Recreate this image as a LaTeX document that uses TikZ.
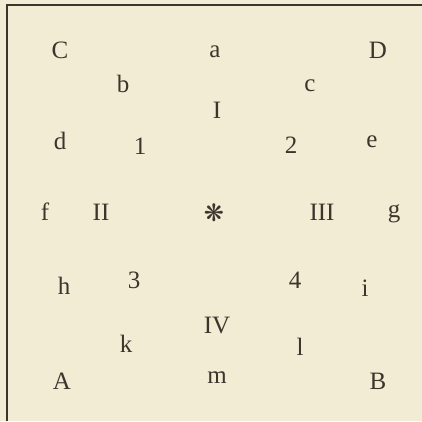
\documentclass[tikz,border=0pt]{standalone}
\usepackage{fontspec}
\setmainfont{Liberation Serif}
\newfontfamily\symfont{DejaVu Sans}
\definecolor{paper}{HTML}{F2ECD4}
\definecolor{ink}{HTML}{3A362C}
\tikzset{
  lbl/.style={text=ink, font=\fontsize{25}{25}\selectfont, inner sep=0pt, anchor=center},
  frameline/.style={draw=ink, line width=1.6pt}
}
\begin{document}
\begin{tikzpicture}[x=1pt, y=-1pt]
\fill[paper] (0,0) rectangle (422,421);
\useasboundingbox (0,0) rectangle (422,421);
\coordinate (tl) at (7,5);
\coordinate (tr) at (422,5);
\coordinate (bl) at (7,421);
\draw[frameline] (tr) -- (tl) -- (bl);
\node[lbl] (C) at (60,50) {C};
\node[lbl] (a) at (215,52) {a};
\node[lbl] (D) at (378,50) {D};
\node[lbl] (b) at (123,84) {b};
\node[lbl] (c) at (310,86) {c};
\node[lbl] (I) at (217,110) {I};
\node[lbl] (d) at (60,141) {d};
\node[lbl] (one) at (140,146) {1};
\node[lbl] (two) at (291,145) {2};
\node[lbl] (e) at (372,142) {e};
\node[lbl] (f) at (45,212) {f};
\node[lbl] (II) at (101,212) {II};
\node[lbl, font=\symfont\fontsize{24}{24}\selectfont] (star) at (214,213) {❋};
\node[lbl] (III) at (322,212) {III};
\node[lbl] (g) at (394,214) {g};
\node[lbl] (h) at (64,286) {h};
\node[lbl] (three) at (134,280) {3};
\node[lbl] (four) at (295,280) {4};
\node[lbl] (i) at (365,288) {i};
\node[lbl] (IV) at (217,325) {IV};
\node[lbl] (k) at (126,344) {k};
\node[lbl] (l) at (300,347) {l};
\node[lbl] (A) at (62,381) {A};
\node[lbl] (m) at (217,378) {m};
\node[lbl] (B) at (378,381) {B};
\end{tikzpicture}
\end{document}
